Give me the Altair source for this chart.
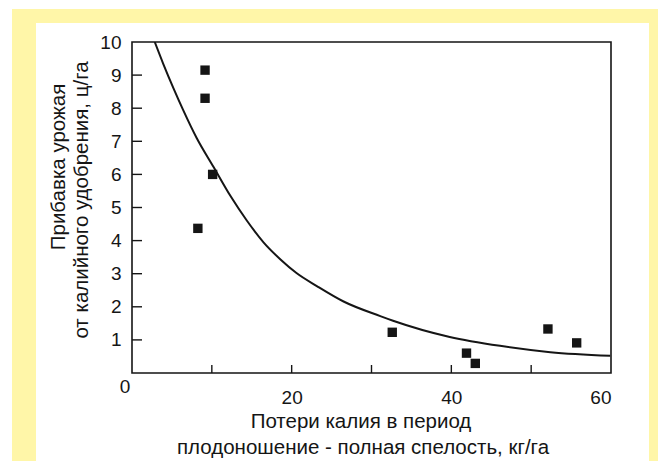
import altair as alt
import pandas as pd

# measured points (squares)
pts_x = [9.15, 9.15, 10.1, 8.25, 32.6, 41.9, 43.0, 52.1, 55.7]
pts_y = [9.15, 8.30, 6.00, 4.37, 1.23, 0.60, 0.29, 1.33, 0.91]

# fitted curve
curve_x = [2.85, 3.9, 5.2, 6.4, 8.1, 10.2, 12.3, 14.4, 16.5, 18.6, 20.6, 23.2, 26.5, 31.1, 32.7, 39.8, 46.1, 52.4, 59.9]
curve_y = [10.0, 9.35, 8.60, 7.95, 7.10, 6.23, 5.36, 4.60, 3.94, 3.43, 3.02, 2.62, 2.16, 1.72, 1.58, 1.09, 0.82, 0.63, 0.52]

x_tick_vals = [10, 20, 30, 40, 50]
y_tick_vals = [1, 2, 3, 4, 5, 6, 7, 8, 9]
x_label_vals = [20, 40, 60]
y_label_vals = [1, 2, 3, 4, 5, 6, 7, 8, 9, 10]

y_title_1 = "Прибавка урожая"
y_title_2 = "от калийного удобрения, ц/га"
x_title_1 = "Потери калия в период"
x_title_2 = "плодоношение - полная спелость, кг/га"
origin_label = "0"

W, H = 479, 331
FONT = "Liberation Sans"
INK = "#151515"
YELLOW = "#FFF6A8"

xs = alt.Scale(domain=[0, 60], nice=False, zero=False)
ys = alt.Scale(domain=[0, 10], nice=False, zero=False)

ax_x = alt.Axis(values=x_label_vals, title=None, ticks=False, domain=False, grid=False,
                labelPadding=15, labelFontSize=19, labelFont=FONT, labelColor=INK, zindex=5)
ax_y = alt.Axis(values=y_label_vals, title=None, ticks=False, domain=False, grid=False,
                labelPadding=11, labelFontSize=19, labelFont=FONT, labelColor=INK, zindex=5)

one = pd.DataFrame({"a": [0]})
pts = pd.DataFrame({"x": pts_x, "y": pts_y})
curve = pd.DataFrame({"x": curve_x, "y": curve_y})
xt = pd.DataFrame({"t": x_tick_vals})
yt = pd.DataFrame({"t": y_tick_vals})

yellow = alt.Chart(one).mark_rect(color=YELLOW).encode(
    x=alt.value(-120), x2=alt.value(540), y=alt.value(-33), y2=alt.value(440)
)
white = alt.Chart(one).mark_rect(color="white").encode(
    x=alt.value(-96), x2=alt.value(517), y=alt.value(-19), y2=alt.value(424)
)

frame = alt.Chart(one).mark_rect(filled=False, stroke=INK, strokeWidth=1.6).encode(
    x=alt.value(0), x2=alt.value(W), y=alt.value(0), y2=alt.value(H)
)

xticks = alt.Chart(xt).mark_rule(color=INK, strokeWidth=1.4).encode(
    x=alt.X("t:Q", scale=xs, axis=ax_x), y=alt.value(H), y2=alt.value(H - 8)
)
yticks = alt.Chart(yt).mark_rule(color=INK, strokeWidth=1.4).encode(
    y=alt.Y("t:Q", scale=ys, axis=ax_y), x=alt.value(0), x2=alt.value(10)
)

line = alt.Chart(curve).mark_line(color=INK, strokeWidth=2, interpolate="monotone", clip=True).encode(
    x=alt.X("x:Q", scale=xs, axis=ax_x), y=alt.Y("y:Q", scale=ys, axis=ax_y)
)

points = alt.Chart(pts).mark_square(color=INK, size=88, opacity=1).encode(
    x=alt.X("x:Q", scale=xs, axis=ax_x),
    y=alt.Y("y:Q", scale=ys, axis=ax_y),
)

def txt(s, x, y, angle=0):
    return alt.Chart(one).mark_text(text=s, font=FONT, fontSize=20.5, color=INK, angle=angle,
                                    align="center", baseline="middle").encode(
        x=alt.value(x), y=alt.value(y)
    )

origin = alt.Chart(one).mark_text(text=origin_label, font=FONT, fontSize=19, color=INK,
                                  align="center", baseline="middle").encode(
    x=alt.value(-7), y=alt.value(345)
)

chart = alt.layer(
    yellow, white, frame, xticks, yticks, line, points,
    txt(y_title_1, -73, 125, 270),
    txt(y_title_2, -50, 158, 270),
    txt(x_title_1, 229, 380),
    txt(x_title_2, 231, 406),
    origin,
).properties(
    width=W, height=H,
    padding={"left": 124, "top": 34, "right": 47, "bottom": 88},
    autosize=alt.AutoSizeParams(type="none"),
    background="white",
).configure_view(stroke=None)

chart.save("out.html", embed_options={"renderer": "svg", "actions": False})
